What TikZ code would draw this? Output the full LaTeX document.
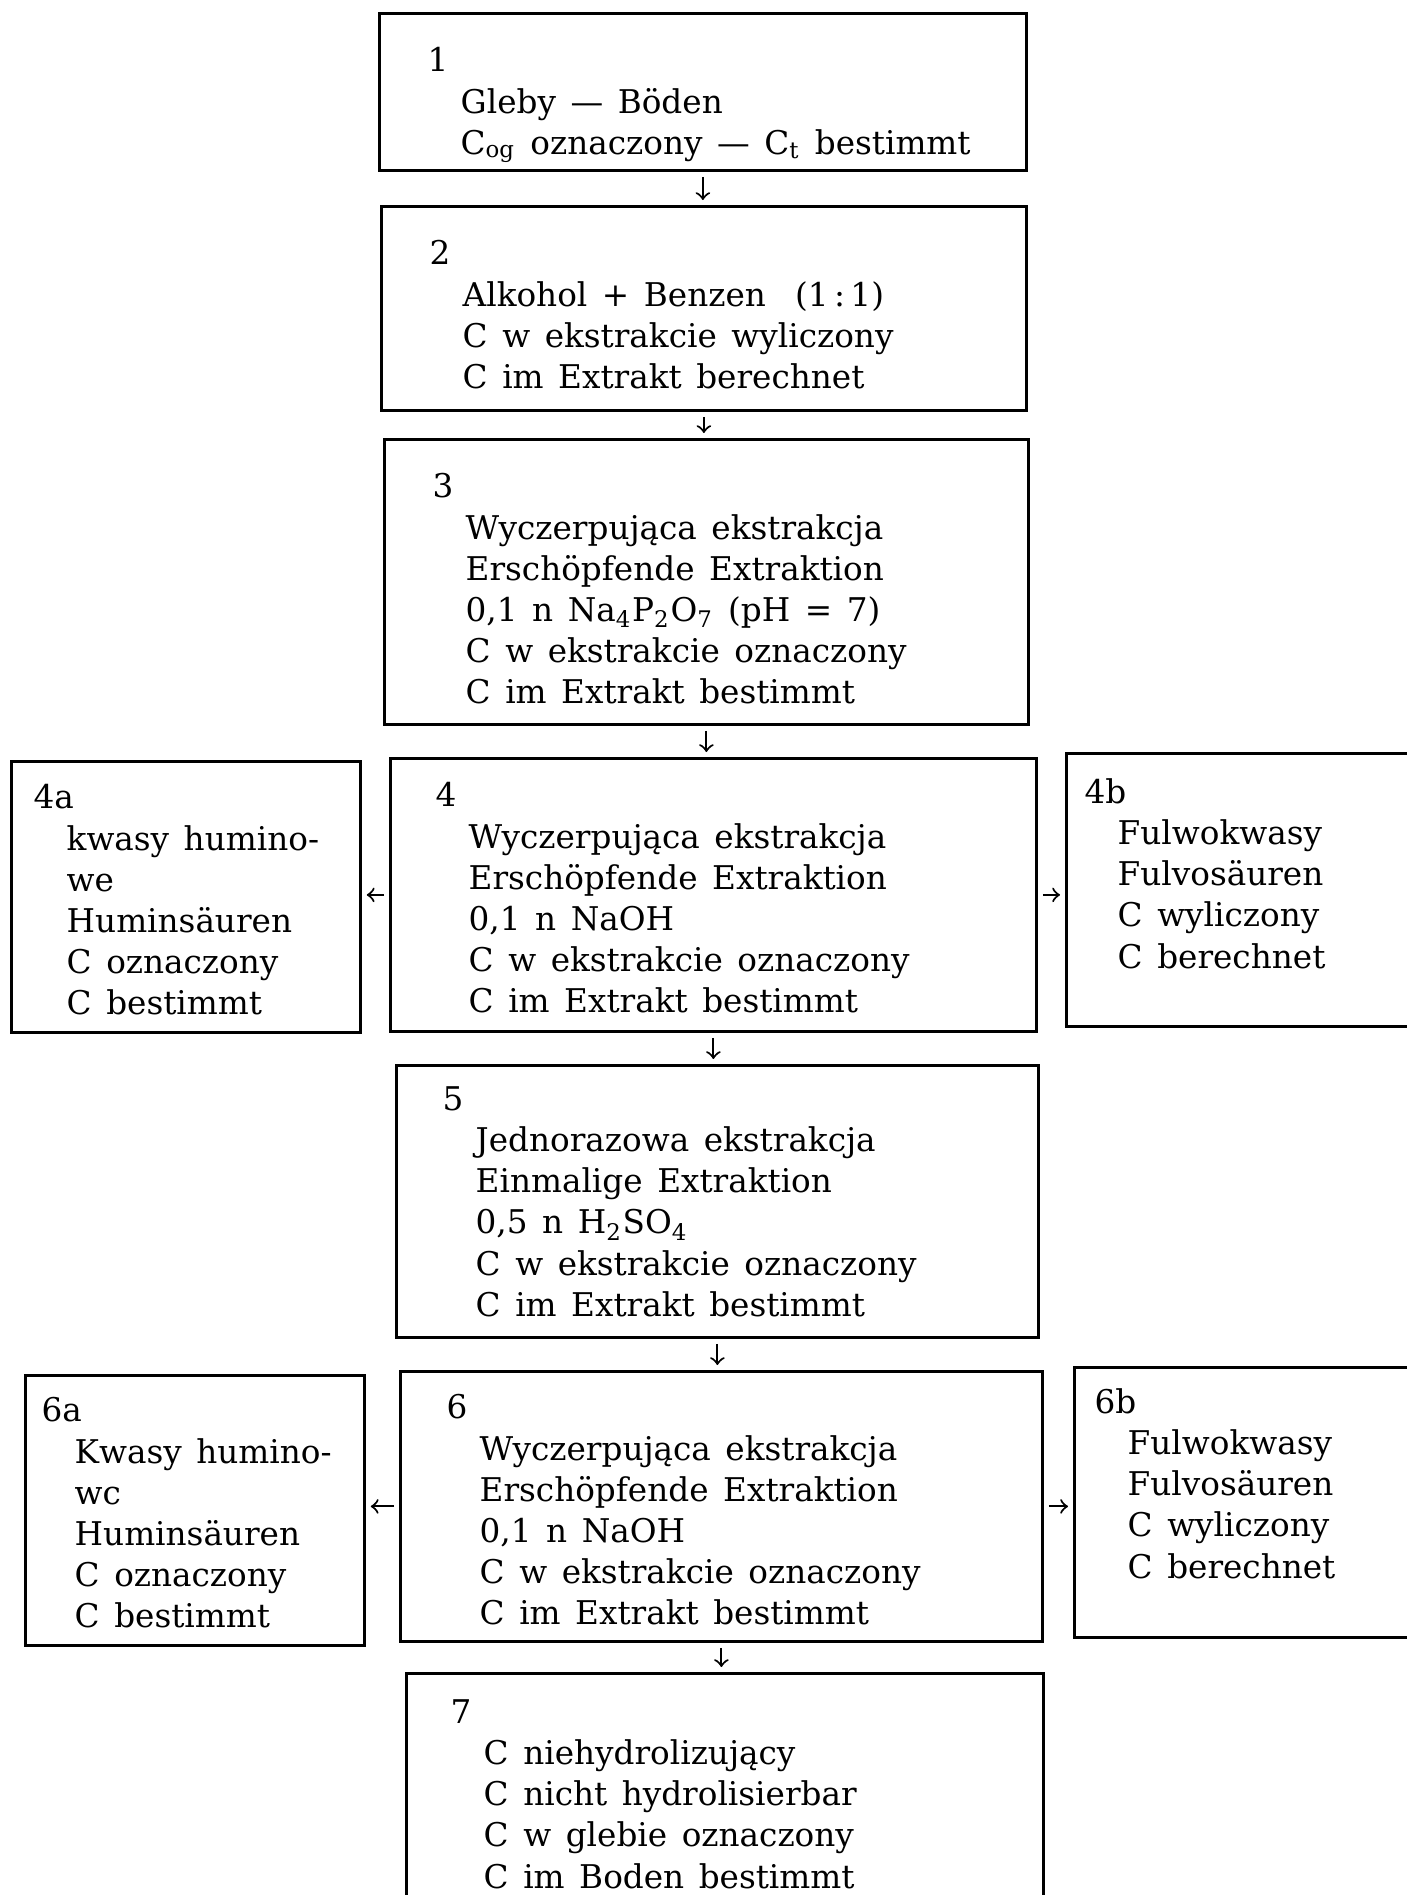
\documentclass[tikz,border=0pt]{standalone}
\usepackage{fontspec}
\setmainfont[WordSpace=1.4]{DejaVu Serif}
\newcommand{\ind}{\hspace*{3.3mm}}
\tikzset{
  box/.style={draw, line width=0.8pt, inner sep=0pt, anchor=north west},
  txt/.style={anchor=north west, align=left, inner sep=0pt, font=\fontsize{9.3}{11.7}\selectfont},
  arr/.style={->, line width=0.6pt, shorten >=0.05cm, shorten <=0.05cm}
}

\begin{document}
\begin{tikzpicture}
    \useasboundingbox (0,0) rectangle (14.07,-18.95);

    % boxes
    \node[box, minimum width=6.47cm, minimum height=1.57cm] (b1) at (3.78,-0.12) {};
    \node[box, minimum width=6.45cm, minimum height=2.04cm] (b2) at (3.80,-2.05) {};
    \node[box, minimum width=6.44cm, minimum height=2.85cm] (b3) at (3.83,-4.38) {};
    \node[box, minimum width=6.46cm, minimum height=2.73cm] (b4) at (3.89,-7.57) {};
    \node[box, minimum width=3.49cm, minimum height=2.71cm] (b4a) at (0.10,-7.60) {};
    \node[box, minimum width=3.60cm, minimum height=2.73cm] (b4b) at (10.65,-7.52) {};
    \node[box, minimum width=6.42cm, minimum height=2.72cm] (b5) at (3.95,-10.64) {};
    \node[box, minimum width=6.42cm, minimum height=2.70cm] (b6) at (3.99,-13.70) {};
    \node[box, minimum width=3.39cm, minimum height=2.70cm] (b6a) at (0.24,-13.74) {};
    \node[box, minimum width=3.50cm, minimum height=2.70cm] (b6b) at (10.73,-13.66) {};
    \node[box, minimum width=6.37cm, minimum height=2.60cm] (b7) at (4.05,-16.72) {};

    % texts
    \node[txt] (t1) at (4.27,-0.47) {1\\\ind Gleby — Böden\\\ind C\textsubscript{og} oznaczony — C\textsubscript{t} bestimmt};
    \node[txt] (t2) at (4.29,-2.40) {2\\\ind Alkohol + Benzen\ \ (1\,:\,1)\\\ind C w ekstrakcie wyliczony\\\ind C im Extrakt berechnet};
    \node[txt] (t3) at (4.32,-4.73) {3\\\ind Wyczerpująca ekstrakcja\\\ind Erschöpfende Extraktion\\\ind 0,1 n Na\textsubscript{4}P\textsubscript{2}O\textsubscript{7} (pH = 7)\\\ind C w ekstrakcie oznaczony\\\ind C im Extrakt bestimmt};
    \node[txt] (t4) at (4.35,-7.82) {4\\\ind Wyczerpująca ekstrakcja\\\ind Erschöpfende Extraktion\\\ind 0,1 n NaOH\\\ind C w ekstrakcie oznaczony\\\ind C im Extrakt bestimmt};
    \node[txt] (t4a) at (0.33,-7.84) {4a\\\ind kwasy humino-\\\ind we\\\ind Huminsäuren\\\ind C oznaczony\\\ind C bestimmt};
    \node[txt] (t4b) at (10.84,-7.78) {4b\\\ind Fulwokwasy\\\ind Fulvosäuren\\\ind C wyliczony\\\ind C berechnet};
    \node[txt] (t5) at (4.42,-10.86) {5\\\ind Jednorazowa ekstrakcja\\\ind Einmalige Extraktion\\\ind 0,5 n H\textsubscript{2}SO\textsubscript{4}\\\ind C w ekstrakcie oznaczony\\\ind C im Extrakt bestimmt};
    \node[txt] (t6) at (4.46,-13.94) {6\\\ind Wyczerpująca ekstrakcja\\\ind Erschöpfende Extraktion\\\ind 0,1 n NaOH\\\ind C w ekstrakcie oznaczony\\\ind C im Extrakt bestimmt};
    \node[txt] (t6a) at (0.41,-13.97) {6a\\\ind Kwasy humino-\\\ind wc\\\ind Huminsäuren\\\ind C oznaczony\\\ind C bestimmt};
    \node[txt] (t6b) at (10.94,-13.88) {6b\\\ind Fulwokwasy\\\ind Fulvosäuren\\\ind C wyliczony\\\ind C berechnet};
    \node[txt] (t7) at (4.50,-16.99) {7\\\ind C niehydrolizujący\\\ind C nicht hydrolisierbar\\\ind C w glebie oznaczony\\\ind C im Boden bestimmt};

    % arrows
    \draw[arr] (b1.south) -- (b1.south |- b2.north);
    \draw[arr] (b2.south) -- (b2.south |- b3.north);
    \draw[arr] (b3.south) -- (b3.south |- b4.north);
    \draw[arr] (b4.south) -- (b4.south |- b5.north);
    \draw[arr] (b5.south) -- (b5.south |- b6.north);
    \draw[arr] (b6.south) -- (b6.south |- b7.north);
    \draw[arr] (b4.west) -- (b4.west -| b4a.east);
    \draw[arr] (b4.east) -- (b4.east -| b4b.west);
    \draw[arr] (b6.west) -- (b6.west -| b6a.east);
    \draw[arr] (b6.east) -- (b6.east -| b6b.west);
\end{tikzpicture}
\end{document}
